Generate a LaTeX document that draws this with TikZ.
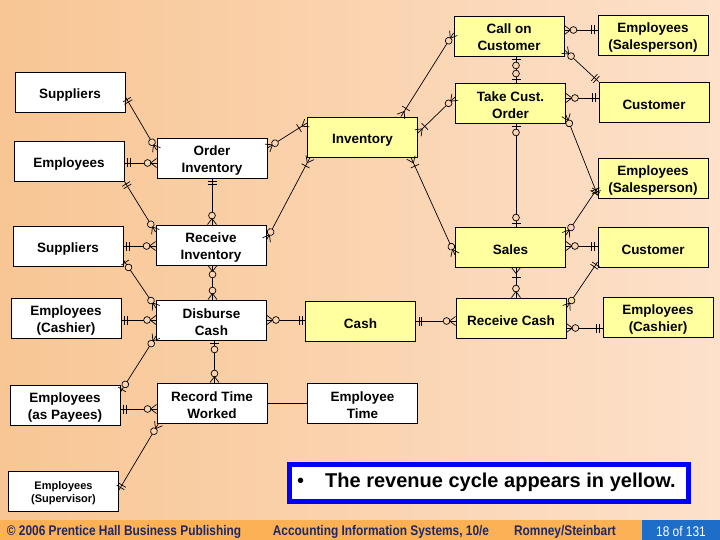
\documentclass[tikz,border=0pt]{standalone}
\usepackage{fontspec}
\setmainfont{Liberation Sans}
\newfontfamily\narrowfont[FakeStretch=0.85]{Liberation Sans}
\usetikzlibrary{decorations.markings}
\definecolor{bgleft}{RGB}{248,198,148}
\definecolor{bgright}{RGB}{253,225,203}
\definecolor{bgmid}{RGB}{251,212,176}
\definecolor{revyellow}{RGB}{255,255,160}
\definecolor{footorange}{RGB}{252,178,84}
\definecolor{footblue}{RGB}{30,110,200}
\definecolor{footnavy}{RGB}{30,40,100}
% crow's foot pieces, drawn along the line direction
\newcommand{\erbar}{\draw (0,-4.5pt) -- (0,4.5pt);}
\newcommand{\ercircle}{\draw[fill=bgmid] (0,0) circle (3.4pt);}
\newcommand{\crowin}{\draw (-5.5pt,0) -- (0.5pt,4.5pt) (-5.5pt,0) -- (0.5pt,-4.5pt);}
\newcommand{\crowout}{\draw (5.5pt,0) -- (-0.5pt,4.5pt) (5.5pt,0) -- (-0.5pt,-4.5pt);}
\tikzset{
  erbox/.style={draw, line width=0.9pt, minimum width=110pt, minimum height=40pt,
    align=center, inner sep=1pt, font=\fontsize{13.5}{17}\selectfont\bfseries},
  % the argument is a strut height that centres the text like the slide does
  entity/.style={erbox, fill=white, execute at begin node={\rule{0pt}{#1}}},
  entity/.default=15pt,
  revenue/.style={erbox, fill=revyellow, execute at begin node={\rule{0pt}{#1}}},
  revenue/.default=15pt,
  relline/.style={line width=0.7pt}
}
\tikzset{
  onlyone start/.style={postaction={decorate,decoration={markings,
    mark=at position 3pt with {\erbar}, mark=at position 5.8pt with {\erbar}}}},
  onlyone end/.style={postaction={decorate,decoration={markings,
    mark=at position -5.8pt with {\erbar}, mark=at position -3pt with {\erbar}}}},
  zeroone start/.style={postaction={decorate,decoration={markings,
    mark=at position 3pt with {\erbar}, mark=at position 9pt with {\ercircle}}}},
  zeroone end/.style={postaction={decorate,decoration={markings,
    mark=at position -9pt with {\ercircle}, mark=at position -3pt with {\erbar}}}},
  zeromany start/.style={postaction={decorate,decoration={markings,
    mark=at position 0.5pt with {\crowout}, mark=at position 9pt with {\ercircle}}}},
  zeromany end/.style={postaction={decorate,decoration={markings,
    mark=at position -9pt with {\ercircle}, mark=at position -0.5pt with {\crowin}}}},
  onemany start/.style={postaction={decorate,decoration={markings,
    mark=at position 0.5pt with {\crowout}, mark=at position 9.5pt with {\erbar}}}},
  onemany end/.style={postaction={decorate,decoration={markings,
    mark=at position -9.5pt with {\erbar}, mark=at position -0.5pt with {\crowin}}}}
}
\tikzset{
  foottext/.style={font=\narrowfont\fontsize{14}{16}\selectfont\bfseries, text=footnavy},
  pagetext/.style={font=\narrowfont\fontsize{14}{16}\selectfont, text=white}
}

\begin{document}
\begin{tikzpicture}[x=1pt, y=-1pt]
  \useasboundingbox (0,0) rectangle (720,540);
  \shade[left color=bgleft, right color=bgright] (0,0) rectangle (720,540);

  % expenditure / payroll side
  \node[entity] (sup1) at (70,92) {Suppliers};
  \node[entity] (emp1) at (69,161) {Employees};
  \node[entity=31pt] (ordinv) at (212,158) {Order\\ Inventory};
  \node[entity] (sup2) at (68,246) {Suppliers};
  \node[entity=31pt] (rinv) at (211,245) {Receive\\ Inventory};
  \node[entity=31pt] (cash1) at (66,318) {Employees\\ (Cashier)};
  \node[entity=31pt] (dcash) at (211.5,320) {Disburse\\ Cash};
  \node[entity=31pt] (payee) at (65,405) {Employees\\ (as Payees)};
  \node[entity=31pt] (rtime) at (212,403) {Record Time\\ Worked};
  \node[entity=31pt] (etime) at (362.5,403) {Employee\\ Time};
  \node[entity=25.5pt, font=\fontsize{11}{13.5}\selectfont\bfseries] (super) at (63.5,491) {Employees\\ (Supervisor)};

  % revenue cycle
  \node[revenue] (inv) at (362.5,137) {Inventory};
  \node[revenue] (cash) at (360.5,321) {Cash};
  \node[revenue=30pt] (call) at (509,36) {Call on\\ Customer};
  \node[revenue=31pt] (sales1) at (653,35) {Employees\\ (Salesperson)};
  \node[revenue=31pt] (take) at (510.5,103) {Take Cust.\\ Order};
  \node[revenue] (cust1) at (654,102) {Customer};
  \node[revenue=31pt] (sales2) at (653,178) {Employees\\ (Salesperson)};
  \node[revenue] (sale) at (510.5,247) {Sales};
  \node[revenue] (cust2) at (653,247) {Customer};
  \node[revenue] (rcash) at (511,318) {Receive Cash};
  \node[revenue=31pt] (cash2) at (658,317) {Employees\\ (Cashier)};

  \draw[relline, onlyone start, zeromany end] ([yshift=-5pt]sup1.east) -- ([yshift=8pt]ordinv.west);
  \draw[relline, onlyone start, zeromany end] ([yshift=-2pt]emp1.east) -- ([yshift=-2pt]emp1.east -| ordinv.west);
  \draw[relline, zeromany start, onemany end] ([yshift=10pt]ordinv.east) -- ([yshift=14pt]inv.west);
  \draw[relline, onlyone start, zeromany end] (ordinv.south) -- (ordinv.south |- rinv.north);
  \draw[relline, onlyone start, zeromany end] (emp1.south east) -- ([yshift=13pt]rinv.west);
  \draw[relline, zeromany start, onemany end] ([yshift=5pt]rinv.east) -- ([xshift=3pt]inv.south west);
  \draw[relline, onlyone start, zeromany end] (sup2.east) -- (sup2.east -| rinv.west);
  \draw[relline, zeroone start, zeromany end] ([yshift=-14pt]sup2.east) -- ([yshift=12pt]dcash.west);
  \draw[relline, zeromany start, zeromany end] ([xshift=1.5pt]rinv.south) -- ([xshift=1.5pt]rinv.south |- dcash.north);
  \draw[relline, onlyone start, zeromany end] (cash1.east |- dcash.west) -- (dcash.west);
  \draw[relline, zeroone start, zeromany end] ([yshift=13pt]payee.east) -- ([yshift=-16pt]dcash.west);
  \draw[relline, zeromany start, onlyone end] (dcash.east) -- (dcash.east -| cash.west);
  \draw[relline, zeroone start, zeromany end] ([xshift=3pt]dcash.south) -- ([xshift=3pt]dcash.south |- rtime.north);
  \draw[relline, onlyone start, zeromany end] ([yshift=-4pt]payee.east) -- ([yshift=-4pt]payee.east -| rtime.west);
  \draw[relline, onlyone start, zeromany end] ([yshift=1pt]super.east) -- ([xshift=2pt]rtime.south west);
  \draw[relline] (rtime.east) -- (rtime.east -| etime.west);
  \draw[relline, onlyone start, zeromany end] (cash.east) -- (cash.east -| rcash.west);

  \draw[relline, onemany start, zeromany end] ([xshift=-17pt]inv.north east) -- ([yshift=3pt]call.west);
  \draw[relline, onemany start, zeromany end] ([yshift=4pt]inv.east) -- ([yshift=6pt]take.west);
  \draw[relline, onemany start, zeromany end] ([xshift=-7pt]inv.south east) -- ([yshift=-8pt]sale.west);
  \draw[relline, zeromany start, onlyone end] ([yshift=6pt]call.east) -- ([yshift=6pt]call.east -| sales1.west);
  \draw[relline, zeromany start, onlyone end] ([yshift=-14pt]call.east) -- (cust1.north west);
  \draw[relline, zeroone start, zeroone end] ([xshift=7pt]call.south) -- ([xshift=7pt]call.south |- take.north);
  \draw[relline, zeromany start, onlyone end] ([yshift=5pt]take.east) -- ([yshift=5pt]take.east -| cust1.west);
  \draw[relline, zeromany start, onlyone end] ([yshift=-12pt]take.east) -- ([yshift=-17pt]sales2.west);
  \draw[relline, zeroone start, zeroone end] ([xshift=5.5pt]take.south) -- ([xshift=5.5pt]take.south |- sale.north);
  \draw[relline, onlyone start, zeromany end] ([yshift=-10pt]sales2.west) -- ([yshift=12pt]sale.east);
  \draw[relline, zeromany start, onlyone end] ([yshift=1pt]sale.east) -- ([yshift=1pt]sale.east -| cust2.west);
  \draw[relline, onemany start, zeromany end] ([xshift=5.5pt]sale.south) -- ([xshift=5.5pt]sale.south |- rcash.north);
  \draw[relline, onlyone start, zeromany end] ([yshift=-15pt]cust2.west) -- ([yshift=10pt]rcash.east);
  \draw[relline, zeromany start, onlyone end] ([yshift=-10pt]rcash.east) -- ([yshift=-10pt]rcash.east -| cash2.west);

  % note box
  \node[draw=blue, line width=5pt, fill=white, minimum width=399pt, minimum height=37pt] (note) at (489,483) {};
  \node[anchor=base west, inner sep=0pt, font=\fontsize{20}{24}\selectfont] (bullet) at (297,487) {\textbullet};
  \node[anchor=base west, inner sep=0pt, font=\fontsize{20}{24}\selectfont\bfseries] (notetext) at (325,487) {The revenue cycle appears in yellow.};

  % footer
  \fill[footorange] (0,520) rectangle (642,540);
  \fill[footblue] (642,520) rectangle (720,540);
  \node[foottext] (pub) at (124,531.5) {\textcopyright\ 2006 Prentice Hall Business Publishing};
  \node[foottext] (book) at (381,531.5) {Accounting Information Systems, 10/e};
  \node[foottext] (auth) at (565,531.5) {Romney/Steinbart};
  \node[pagetext] (page) at (681,531.5) {18 of 131};
\end{tikzpicture}
\end{document}
